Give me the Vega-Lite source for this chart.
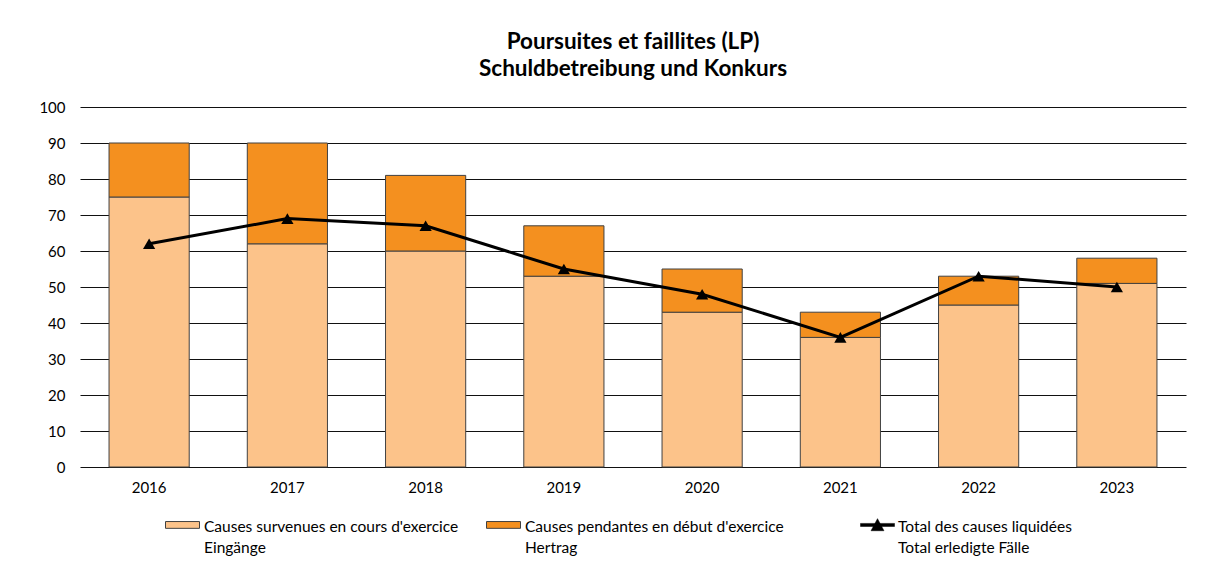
{
  "$schema": "https://vega.github.io/schema/vega-lite/v6.json",
  "autosize": {"type": "none"},
  "width": 1106,
  "height": 360,
  "padding": {"left": 80, "top": 107, "right": 20, "bottom": 95},
  "background": "white",
  "title": {
    "text": ["Poursuites et faillites (LP)", "Schuldbetreibung und Konkurs"],
    "font": "Lato",
    "fontSize": 22.5,
    "fontWeight": "bold",
    "color": "black",
    "lineHeight": 27,
    "offset": 20,
    "anchor": "middle"
  },
  "config": {
    "font": "Lato",
    "view": {"stroke": null},
    "style": {"guide-label": {"lineHeight": 21}}
  },
  "datasets": {
    "bars": [
      {"year": "2016", "series": "Causes survenues en cours d'exercice\nEingänge", "value": 75},
      {"year": "2016", "series": "Causes pendantes en début d'exercice\nHertrag", "value": 15},
      {"year": "2017", "series": "Causes survenues en cours d'exercice\nEingänge", "value": 62},
      {"year": "2017", "series": "Causes pendantes en début d'exercice\nHertrag", "value": 28},
      {"year": "2018", "series": "Causes survenues en cours d'exercice\nEingänge", "value": 60},
      {"year": "2018", "series": "Causes pendantes en début d'exercice\nHertrag", "value": 21},
      {"year": "2019", "series": "Causes survenues en cours d'exercice\nEingänge", "value": 53},
      {"year": "2019", "series": "Causes pendantes en début d'exercice\nHertrag", "value": 14},
      {"year": "2020", "series": "Causes survenues en cours d'exercice\nEingänge", "value": 43},
      {"year": "2020", "series": "Causes pendantes en début d'exercice\nHertrag", "value": 12},
      {"year": "2021", "series": "Causes survenues en cours d'exercice\nEingänge", "value": 36},
      {"year": "2021", "series": "Causes pendantes en début d'exercice\nHertrag", "value": 7},
      {"year": "2022", "series": "Causes survenues en cours d'exercice\nEingänge", "value": 45},
      {"year": "2022", "series": "Causes pendantes en début d'exercice\nHertrag", "value": 8},
      {"year": "2023", "series": "Causes survenues en cours d'exercice\nEingänge", "value": 51},
      {"year": "2023", "series": "Causes pendantes en début d'exercice\nHertrag", "value": 7}
    ],
    "total": [
      {"year": "2016", "series": "Total des causes liquidées\nTotal erledigte Fälle", "value": 62},
      {"year": "2017", "series": "Total des causes liquidées\nTotal erledigte Fälle", "value": 69},
      {"year": "2018", "series": "Total des causes liquidées\nTotal erledigte Fälle", "value": 67},
      {"year": "2019", "series": "Total des causes liquidées\nTotal erledigte Fälle", "value": 55},
      {"year": "2020", "series": "Total des causes liquidées\nTotal erledigte Fälle", "value": 48},
      {"year": "2021", "series": "Total des causes liquidées\nTotal erledigte Fälle", "value": 36},
      {"year": "2022", "series": "Total des causes liquidées\nTotal erledigte Fälle", "value": 53},
      {"year": "2023", "series": "Total des causes liquidées\nTotal erledigte Fälle", "value": 50}
    ]
  },
  "encoding": {
    "x": {
      "field": "year",
      "type": "nominal",
      "sort": null,
      "title": null,
      "scale": {"paddingInner": 0.42, "paddingOuter": 0.21},
      "axis": {"labelAngle": 0, "ticks": false, "domain": false, "labelPadding": 13, "labelFont": "Lato", "labelFontSize": 15, "labelColor": "black"}
    },
    "y": {
      "field": "value",
      "type": "quantitative",
      "title": null,
      "scale": {"domain": [0, 100], "nice": false},
      "axis": {
        "values": [0, 10, 20, 30, 40, 50, 60, 70, 80, 90, 100],
        "labelOverlap": false,
        "labelFont": "Lato",
        "labelFontSize": 15,
        "labelColor": "black",
        "ticks": false,
        "domain": false,
        "labelPadding": 15,
        "grid": true,
        "gridColor": "#111111",
        "gridOpacity": 1,
        "gridWidth": 1
      }
    }
  },
  "layer": [
    {
      "data": {"name": "bars"},
      "mark": {"type": "bar", "stroke": "#404040", "strokeWidth": 1},
      "encoding": {
        "order": {"field": "series", "sort": "descending"},
        "color": {
          "field": "series",
          "type": "nominal",
          "scale": {
            "domain": [
              "Causes survenues en cours d'exercice\nEingänge",
              "Causes pendantes en début d'exercice\nHertrag"
            ],
            "range": ["#FCC38A", "#F4901F"]
          },
          "legend": {
            "title": null,
            "orient": "none",
            "legendX": 85,
            "legendY": 395,
            "direction": "horizontal",
            "columns": 2,
            "columnPadding": 25,
            "labelFont": "Lato",
            "labelFontSize": 15.5,
            "labelColor": "black",
            "labelLimit": 400,
            "labelOffset": 4,
            "labelBaseline": "top",
            "labelExpr": "split(datum.label, '\\n')",
            "symbolType": "M-1,0.12H1V0.52H-1Z",
            "symbolSize": 1156,
            "symbolStrokeColor": "#404040",
            "symbolStrokeWidth": 1
          }
        }
      }
    },
    {
      "data": {"name": "total"},
      "mark": {"type": "line", "color": "black", "strokeWidth": 3},
      "encoding": {
        "opacity": {
          "field": "series",
          "type": "nominal",
          "scale": {"range": [1, 1]},
          "legend": {
            "title": null,
            "orient": "none",
            "legendX": 780,
            "legendY": 395,
            "labelFont": "Lato",
            "labelFontSize": 15.5,
            "labelColor": "black",
            "labelLimit": 400,
            "labelOffset": 3,
            "labelBaseline": "top",
            "labelExpr": "split(datum.label, '\\n')",
            "symbolType": "M-1,0.23H1V0.41H-1Z M0,-0.05L0.38,0.66H-0.38Z",
            "symbolSize": 1156,
            "symbolFillColor": "black",
            "symbolStrokeColor": "black",
            "symbolStrokeWidth": 0.5,
            "symbolOpacity": 1
          }
        }
      }
    },
    {
      "data": {"name": "total"},
      "mark": {"type": "point", "shape": "triangle-up", "filled": true, "color": "black", "size": 150, "opacity": 1}
    }
  ]
}
